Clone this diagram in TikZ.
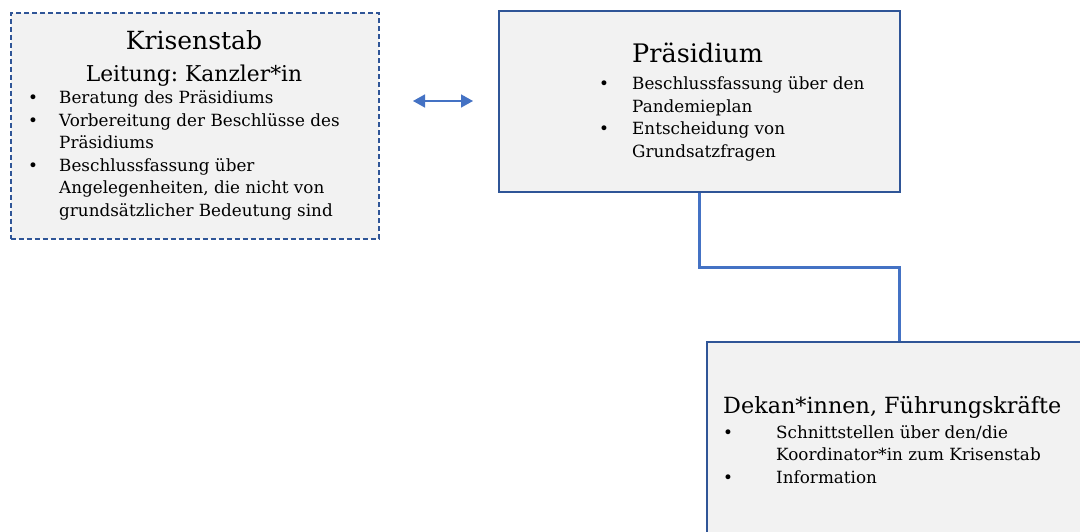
\documentclass[tikz,border=0pt]{standalone}
\usepackage{fontspec}
\setmainfont{DejaVu Serif}
\usetikzlibrary{arrows.meta}
\definecolor{boxfill}{HTML}{F2F2F2}
\definecolor{boxline}{HTML}{2F5597}
\definecolor{linkblue}{HTML}{4472C4}
\newcommand{\bodyfont}{\frenchspacing\fontsize{16.8}{22.5}\selectfont}
\newcommand{\titlefont}[1]{\frenchspacing\fontsize{#1}{26}\selectfont}
\tikzset{
  orgbox/.style={draw=boxline, fill=boxfill, line width=1.8pt, inner sep=0pt, anchor=north west},
  titletext/.style={inner sep=0pt},
  listtext/.style={font=\bodyfont, inner sep=0pt, anchor=base west, align=left},
  link/.style={draw=linkblue, line width=3pt},
  dbl/.style={draw=linkblue, line width=1.6pt, {Triangle[length=12pt,width=13pt]}-{Triangle[length=12pt,width=13pt]}}
}
\begin{document}
\begin{tikzpicture}[x=1pt,y=-1pt]
\clip (0,0) rectangle (1080,532);
\fill[white] (0,0) rectangle (1080,532);
% boxes
\node[orgbox, dash pattern=on 5pt off 3pt, minimum width=368pt, minimum height=226pt] (krisen) at (10,12) {};
\node[orgbox, minimum width=401pt, minimum height=181pt] (praes) at (498,10) {};
\node[orgbox, minimum width=386pt, minimum height=220pt] (dekan) at (706,341) {};
% connectors
\draw[link] (praes.south) -- ++(0,75) -| (dekan.north);
\coordinate (al) at (413,101);
\coordinate (ar) at (473,101);
\draw[dbl] (al) -- (ar);
% Krisenstab text
\node[titletext, font=\titlefont{25}, anchor=base] (ktitle) at (194,50) {Krisenstab};
\node[titletext, font=\titlefont{21.8}, anchor=base] (ksub) at (194,82) {Leitung: Kanzler*in};
\node[listtext] (klist) at (28,104) {\begin{tabular}[t]{@{}p{31pt}@{}l@{}}
\textbullet & Beratung des Präsidiums\\
\textbullet & Vorbereitung der Beschlüsse des\\
 & Präsidiums\\
\textbullet & Beschlussfassung über\\
 & Angelegenheiten, die nicht von\\
 & grundsätzlicher Bedeutung sind
\end{tabular}};
% Präsidium text
\node[titletext, font=\titlefont{25.5}, anchor=base west] (ptitle) at (632,63) {Präsidium};
\node[listtext] (plist) at (599,90) {\begin{tabular}[t]{@{}p{33pt}@{}l@{}}
\textbullet & Beschlussfassung über den\\
 & Pandemieplan\\
\textbullet & Entscheidung von\\
 & Grundsatzfragen
\end{tabular}};
% Dekan text
\node[titletext, font=\titlefont{22.3}, anchor=base west] (dtitle) at (723,413) {Dekan*innen, Führungskräfte};
\node[listtext] (dlist) at (723,438) {\begin{tabular}[t]{@{}p{53pt}@{}l@{}}
\textbullet & Schnittstellen über den/die\\
 & Koordinator*in zum Krisenstab\\
\textbullet & Information
\end{tabular}};
\end{tikzpicture}
\end{document}
